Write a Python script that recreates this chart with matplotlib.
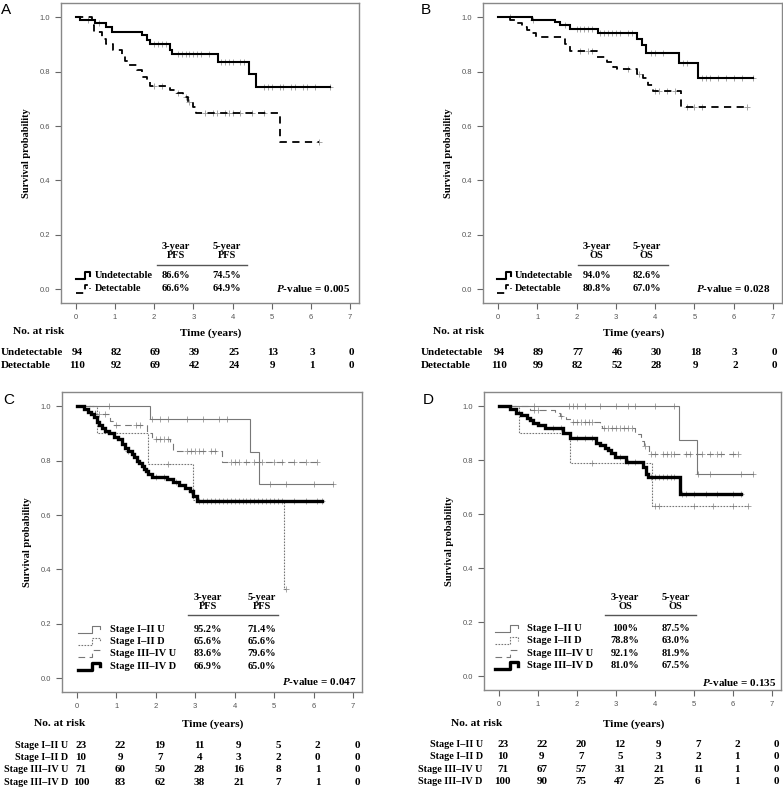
import numpy as np
import matplotlib
matplotlib.use('Agg')
import matplotlib.pyplot as plt
from matplotlib.transforms import blended_transform_factory

W, H = 783, 788
SERIF = 'Liberation Serif'
SANS = 'Liberation Sans'
GREY = '#777777'

# ---- data ----
years = [0, 1, 2, 3, 4, 5, 6, 7]

# panel A  (PFS, undetectable / detectable)
A_und_t = [0.1, 0.49, 0.78, 0.91, 1.68, 1.81, 1.9, 2.4, 2.45, 3.64, 4.42, 4.6]
A_und_s = [0.989, 0.977, 0.964, 0.945, 0.934, 0.915, 0.90, 0.88, 0.866, 0.836, 0.79, 0.744]
A_und_end = 6.5
A_und_cens = [0.3, 0.6, 2.0, 2.1, 2.2, 2.3, 2.6, 2.7, 2.8, 2.9, 3.0, 3.1, 3.2, 3.4, 3.7, 3.8,
              3.9, 4.0, 4.2, 4.3, 4.8, 4.9, 5.0, 5.2, 5.3, 5.5, 5.6, 5.8, 5.9, 6.1, 6.5]
A_det_t = [0.4, 0.45, 0.66, 0.78, 0.95, 1.17, 1.25, 1.33, 1.55, 1.68, 1.81, 1.9, 2.4, 2.57,
           2.74, 2.87, 3.0, 3.07, 5.22]
A_det_s = [0.97, 0.946, 0.92, 0.90, 0.88, 0.86, 0.84, 0.823, 0.805, 0.78, 0.762, 0.746, 0.734,
           0.722, 0.705, 0.689, 0.67, 0.648, 0.541]
A_det_end = 6.2
A_det_cens = [2.0, 2.2, 2.6, 2.8, 2.9, 3.3, 3.5, 3.6, 3.8, 3.9, 4.0, 4.2, 4.5, 4.8, 6.2]
A_groups = ['Undetectable', 'Detectable']
A_3yr = ['86.6%', '66.6%']
A_5yr = ['74.5%', '64.9%']
A_risk = [[94, 82, 69, 39, 25, 13, 3, 0], [110, 92, 69, 42, 24, 9, 1, 0]]
A_p = '0.005'

# panel B  (OS, undetectable / detectable)
B_und_t = [0.86, 1.45, 1.58, 1.83, 2.55, 3.53, 3.66, 3.78, 4.61, 5.08]
B_und_s = [0.99, 0.983, 0.97, 0.958, 0.942, 0.921, 0.897, 0.869, 0.83, 0.777]
B_und_end = 6.49
B_und_cens = [0.3, 0.9, 1.7, 2.0, 2.1, 2.2, 2.3, 2.4, 2.6, 2.7, 2.8, 2.9, 3.0, 3.1, 3.3, 3.4,
              3.9, 4.0, 4.2, 4.7, 4.8, 5.2, 5.3, 5.4, 5.6, 5.8, 6.0, 6.2, 6.49]
B_det_t = [0.3, 0.47, 0.6, 0.73, 0.86, 0.98, 1.7, 1.83, 2.51, 2.77, 2.94, 3.02, 3.53, 3.7,
           3.83, 3.95, 4.65]
B_det_s = [0.99, 0.977, 0.964, 0.952, 0.942, 0.927, 0.90, 0.877, 0.854, 0.836, 0.817, 0.808,
           0.793, 0.775, 0.75, 0.728, 0.67]
B_det_end = 6.33
B_det_cens = [2.1, 2.3, 2.4, 3.3, 3.6, 4.0, 4.1, 4.3, 4.5, 4.8, 5.0, 5.2, 6.33]
B_3yr = ['94.0%', '80.8%']
B_5yr = ['82.6%', '67.0%']
B_risk = [[94, 89, 77, 46, 30, 18, 3, 0], [110, 99, 82, 52, 28, 9, 2, 0]]
B_p = '0.028'

# panel C  (PFS by stage)
stages = ['Stage I\u2013II U', 'Stage I\u2013II D', 'Stage III\u2013IV U', 'Stage III\u2013IV D']
C_12U_t = [1.85, 4.39, 4.62]
C_12U_s = [0.952, 0.833, 0.714]
C_12U_end = 6.5
C_12U_cens = [0.8, 1.9, 2.1, 2.3, 2.8, 3.2, 3.6, 3.8, 4.9, 5.3, 6.0, 6.5]
C_12D_t = [0.5, 1.81, 2.95, 5.24]
C_12D_s = [0.90, 0.787, 0.656, 0.33]
C_12D_end = 5.3
C_12D_cens = [2.3, 5.3]
C_34U_t = [0.46, 0.84, 0.92, 1.77, 1.85, 1.9, 2.36, 2.44, 3.67]
C_34U_s = [0.97, 0.946, 0.93, 0.91, 0.90, 0.88, 0.866, 0.836, 0.796]
C_34U_end = 6.08
C_34U_cens = [0.55, 0.7, 1.0, 1.5, 1.6, 2.0, 2.1, 2.2, 2.3, 2.8, 2.9, 3.0, 3.1, 3.2, 3.4, 3.5,
              3.9, 4.0, 4.1, 4.3, 4.5, 4.7, 5.0, 5.2, 5.5, 5.8, 6.08]
C_34D_t = [0.18, 0.28, 0.36, 0.43, 0.5, 0.56, 0.63, 0.7, 0.8, 0.95, 1.05, 1.15, 1.22, 1.3, 1.39,
           1.45, 1.51, 1.58, 1.64, 1.7, 1.76, 1.81, 1.9, 2.28, 2.44, 2.6, 2.74, 2.87, 2.95, 3.04]
C_34D_s = [0.99, 0.98, 0.97, 0.96, 0.94, 0.93, 0.92, 0.91, 0.90, 0.888, 0.878, 0.86, 0.845,
           0.835, 0.823, 0.812, 0.80, 0.79, 0.78, 0.77, 0.76, 0.75, 0.741, 0.731, 0.72, 0.71,
           0.70, 0.688, 0.669, 0.65]
C_34D_end = 6.21
C_34D_cens = [1.3, 2.0, 2.2, 2.5, 2.9, 3.1, 3.2, 3.3, 3.4, 3.5, 3.6, 3.7, 3.8, 3.9, 4.0, 4.1,
              4.2, 4.3, 4.4, 4.5, 4.6, 4.7, 4.8, 4.9, 5.0, 5.1, 5.2, 5.5, 5.8, 6.1, 6.21]
C_3yr = ['95.2%', '65.6%', '83.6%', '66.9%']
C_5yr = ['71.4%', '65.6%', '79.6%', '65.0%']
C_risk = [[23, 22, 19, 11, 9, 5, 2, 0], [10, 9, 7, 4, 3, 2, 0, 0],
          [71, 60, 50, 28, 16, 8, 1, 0], [100, 83, 62, 38, 21, 7, 1, 0]]
C_p = '0.047'

# panel D  (OS by stage)
D_12U_t = [4.61, 5.08]
D_12U_s = [0.875, 0.75]
D_12U_end = 6.5
D_12U_cens = [0.9, 1.8, 1.9, 2.0, 2.2, 2.6, 3.0, 3.3, 3.5, 4.0, 4.5, 5.1, 5.4, 6.2, 6.5]
D_12D_t = [0.52, 1.82, 3.92]
D_12D_s = [0.90, 0.788, 0.63]
D_12D_end = 6.38
D_12D_cens = [2.4, 4.0, 4.1, 5.0, 5.5, 6.0, 6.38]
D_34U_t = [0.79, 1.43, 1.56, 1.73, 1.86, 2.58, 2.65, 3.5, 3.65, 3.73, 3.84]
D_34U_s = [0.985, 0.976, 0.963, 0.951, 0.941, 0.926, 0.92, 0.895, 0.871, 0.853, 0.824]
D_34U_end = 6.12
D_34U_cens = [0.9, 1.0, 1.6, 1.9, 2.0, 2.1, 2.2, 2.3, 2.4, 2.7, 2.8, 2.9, 3.0, 3.1, 3.2, 3.3,
              3.4, 3.75, 3.9, 4.0, 4.2, 4.3, 4.4, 4.5, 4.8, 4.9, 5.2, 5.4, 5.6, 5.7, 6.0, 6.12]
D_34D_t = [0.28, 0.45, 0.58, 0.71, 0.8, 0.88, 1.0, 1.18, 1.64, 1.82, 2.5, 2.6, 2.71, 2.8, 2.88,
           2.97, 3.27, 3.69, 3.76, 3.82, 4.65]
D_34D_s = [0.99, 0.976, 0.966, 0.957, 0.948, 0.939, 0.93, 0.92, 0.901, 0.883, 0.865, 0.855,
           0.846, 0.837, 0.828, 0.81, 0.794, 0.773, 0.748, 0.739, 0.674]
D_34D_end = 6.2
D_34D_cens = [1.4, 1.6, 2.0, 2.2, 2.4, 3.1, 3.3, 3.5, 3.9, 4.0, 4.1, 4.2, 4.3, 4.4, 4.5, 4.7,
              4.8, 5.0, 5.3, 5.6, 6.0, 6.2]
D_3yr = ['100%', '78.8%', '92.1%', '81.0%']
D_5yr = ['87.5%', '63.0%', '81.9%', '67.5%']
D_risk = [[23, 22, 20, 12, 9, 7, 2, 0], [10, 9, 7, 5, 3, 2, 1, 0],
          [71, 67, 57, 31, 21, 11, 1, 0], [100, 90, 75, 47, 25, 6, 1, 0]]
D_p = '0.135'

# line styles
st_und = dict(color='black', lw=1.5)
st_det = dict(color='black', lw=1.3, dashes=(4, 3))
st_12U = dict(color=GREY, lw=0.8)
st_12D = dict(color=GREY, lw=0.8, dashes=(1.5, 1.2))
st_34U = dict(color=GREY, lw=0.8, dashes=(6, 4))
st_34D = dict(color='black', lw=2.4)


def fy(py):
    return 1 - py / H


def km(ax, t, s, end, cens, style):
    x = np.r_[0, t, end]
    y = np.r_[1, s, s[-1]]
    ax.step(x, y, where='post', solid_joinstyle='miter', **style)
    cy = np.r_[1, s][np.searchsorted(t, cens, side='right')]
    ax.plot(cens, cy, '+', color='#999999', ms=4, mew=0.6, zorder=1)


def setup(ax):
    ax.set_xlim(-0.38, 7.23)
    ax.set_ylim(-0.05, 1.052)
    for sp in ax.spines.values():
        sp.set_color('#888888')
        sp.set_linewidth(1.0)
    ax.set_xticks(years)
    ax.set_yticks([0, 0.2, 0.4, 0.6, 0.8, 1.0])
    ax.set_yticklabels(['0.0', '0.2', '0.4', '0.6', '0.8', '1.0'])
    ax.tick_params(colors='#666666', labelcolor='#555555', labelsize=5.5, length=4, width=0.8,
                   pad=4)
    for lab in ax.get_xticklabels() + ax.get_yticklabels():
        lab.set_family(SANS)
    ax.set_ylabel('Survival probability', family=SERIF, weight='bold', fontsize=7.5, labelpad=6)


def icon(ax, x0, x1, y, style):
    xm = (x0 + x1) / 2 + (x1 - x0) * 0.12
    d = 0.012
    ax.plot([x0, xm, xm, x1, x1], [y - d, y - d, y + d, y + d, y], transform=ax.transAxes,
            clip_on=False, **style)


def legend_table(ax, names, styles, c3, c5, metric, ix, tx, col3, col5, line, rows, head, pv):
    tk = dict(family=SERIF, weight='bold', fontsize=7.5, transform=ax.transAxes)
    for name, sty, v3, v5, y in zip(names, styles, c3, c5, rows):
        icon(ax, ix[0], ix[1], y, sty)
        ax.text(tx, y, name, ha='left', va='center', **tk)
        ax.text(col3, y, v3, ha='center', va='center', **tk)
        ax.text(col5, y, v5, ha='center', va='center', **tk)
    ax.text(col3, head, '3-year\n' + metric, ha='center', va='center', linespacing=1.0, **tk)
    ax.text(col5, head, '5-year\n' + metric, ha='center', va='center', linespacing=1.0, **tk)
    ax.plot(line[:2], [line[2], line[2]], color='#555555', lw=1.0, transform=ax.transAxes)
    ax.text(pv[0], pv[1], r'$\bfit{P}$' + '-value = ' + pv[2], ha='right', va='center',
            family=SERIF, weight='bold', fontsize=8, transform=ax.transAxes)


def risk_table(fig, ax, names, counts, rows_y, lab_x, lab_ha, dx, lab_fs):
    tr = blended_transform_factory(ax.transData, fig.transFigure)
    for name, cnt, py in zip(names, counts, rows_y):
        fig.text(lab_x / W, fy(py), name, ha=lab_ha, va='center', family=SERIF,
                 weight='bold', fontsize=lab_fs)
        for yr, c in zip(years, cnt):
            ax.text(yr + dx, fy(py), str(c), transform=tr, ha='center', va='center',
                    family=SERIF, weight='bold', fontsize=8)


plt.rcParams['mathtext.fontset'] = 'custom'
plt.rcParams['mathtext.bfit'] = 'Liberation Serif:bold:italic'
plt.rcParams['mathtext.it'] = 'Liberation Serif:italic'

fig = plt.figure(figsize=(W / 100, H / 100), dpi=100)
axA = fig.add_axes([61 / W, 1 - 303 / H, 298 / W, 300 / H])
axB = fig.add_axes([483 / W, 1 - 303 / H, 299 / W, 300 / H])
axC = fig.add_axes([62 / W, 1 - 692 / H, 300 / W, 300 / H])
axD = fig.add_axes([484 / W, 1 - 690 / H, 297 / W, 298 / H])
for ax in (axA, axB, axC, axD):
    setup(ax)

km(axA, A_und_t, A_und_s, A_und_end, A_und_cens, st_und)
km(axA, A_det_t, A_det_s, A_det_end, A_det_cens, st_det)
km(axB, B_und_t, B_und_s, B_und_end, B_und_cens, st_und)
km(axB, B_det_t, B_det_s, B_det_end, B_det_cens, st_det)

km(axC, C_12U_t, C_12U_s, C_12U_end, C_12U_cens, st_12U)
km(axC, C_12D_t, C_12D_s, C_12D_end, C_12D_cens, st_12D)
km(axC, C_34U_t, C_34U_s, C_34U_end, C_34U_cens, st_34U)
km(axC, C_34D_t, C_34D_s, C_34D_end, C_34D_cens, st_34D)
km(axD, D_12U_t, D_12U_s, D_12U_end, D_12U_cens, st_12U)
km(axD, D_12D_t, D_12D_s, D_12D_end, D_12D_cens, st_12D)
km(axD, D_34U_t, D_34U_s, D_34U_end, D_34U_cens, st_34U)
km(axD, D_34D_t, D_34D_s, D_34D_end, D_34D_cens, st_34D)

legend_table(axA, A_groups, [st_und, st_det], A_3yr, A_5yr, 'PFS', (0.05, 0.097), 0.112,
             0.385, 0.556, (0.321, 0.623, 0.127), [0.091, 0.047], 0.174, (0.97, 0.047, A_p))
legend_table(axB, A_groups, [st_und, st_det], B_3yr, B_5yr, 'OS', (0.047, 0.093), 0.107,
             0.38, 0.547, (0.319, 0.62, 0.127), [0.091, 0.047], 0.174, (0.962, 0.047, B_p))
sty4 = [st_12U, st_12D, st_34U, st_34D]
legend_table(axC, stages, sty4, C_3yr, C_5yr, 'PFS', (0.053, 0.127), 0.16,
             0.487, 0.667, (0.42, 0.72, 0.257), [0.209, 0.169, 0.128, 0.086], 0.299,
             (0.983, 0.034, C_p))
legend_table(axD, stages, sty4, D_3yr, D_5yr, 'OS', (0.037, 0.116), 0.144,
             0.475, 0.645, (0.407, 0.714, 0.252), [0.207, 0.165, 0.123, 0.082], 0.296,
             (0.983, 0.026, D_p))

# axis titles and risk tables
tkw = dict(family=SERIF, weight='bold', fontsize=8.2, va='center')
for ax, cx, ty in ((axA, 210.7, 333.3), (axB, 633.3, 333.3), (axC, 212.3, 724.3), (axD, 633.3, 724.3)):
    fig.text(cx / W, fy(ty), 'Time (years)', ha='center', **tkw)
for lx, ly in ((13, 331), (433, 331), (34, 723.3), (451, 723.3)):
    fig.text(lx / W, fy(ly), 'No. at risk', ha='left', **tkw)

risk_table(fig, axA, A_groups, A_risk, [352.7, 365.3], 1, 'left', 0.03, 8)
risk_table(fig, axB, A_groups, B_risk, [352.7, 365.3], 421, 'left', 0.03, 8)
risk_table(fig, axC, stages, C_risk, [745, 757.7, 770, 782.3], 68.3, 'right', 0.1, 7.3)
risk_table(fig, axD, stages, D_risk, [744.3, 756.7, 769, 781], 482.7, 'right', 0.1, 7.3)

for letter, lx, ly in (('A', 1, 10), ('B', 421, 10), ('C', 3, 400), ('D', 423, 400)):
    fig.text(lx / W, fy(ly), letter, ha='left', va='center', family=SANS, fontsize=11)

fig.savefig('out.png', dpi=100)
